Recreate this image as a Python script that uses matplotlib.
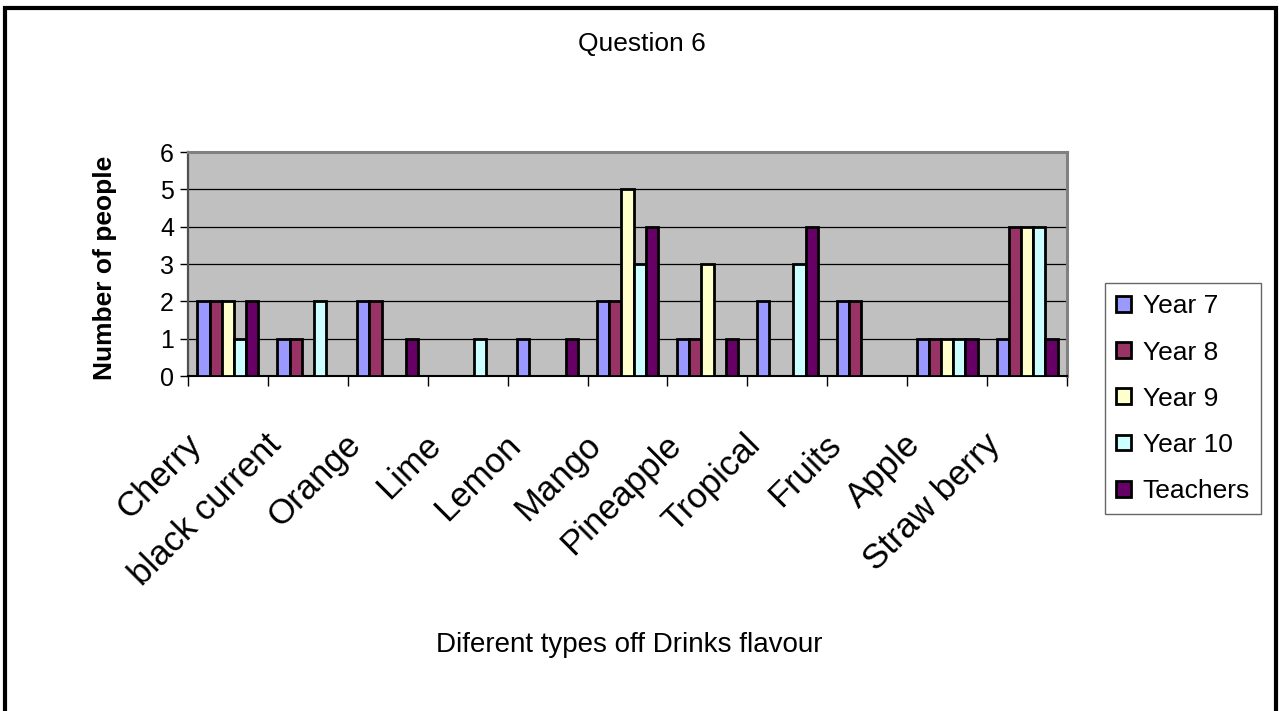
import numpy as np
import matplotlib
matplotlib.use("Agg")
import matplotlib.pyplot as plt
import matplotlib.transforms as mtransforms
from matplotlib.patches import Rectangle

plt.rcParams["font.family"] = ["Liberation Sans", "DejaVu Sans"]

# Survey data: favourite drink flavours by group
flavours = ["Cherry", "black current", "Orange", "Lime", "Lemon", "Mango",
            "Pineapple", "Tropical", "Fruits", "Apple", "Straw berry"]
year7 = [2, 1, 2, 0, 1, 2, 1, 2, 2, 1, 1]
year8 = [2, 1, 2, 0, 0, 2, 1, 0, 2, 1, 4]
year9 = [2, 0, 0, 0, 0, 5, 3, 0, 0, 1, 4]
year10 = [1, 2, 0, 1, 0, 3, 0, 3, 0, 1, 4]
teachers = [2, 0, 1, 0, 1, 4, 1, 4, 0, 1, 1]

series_names = ["Year 7", "Year 8", "Year 9", "Year 10", "Teachers"]
series_values = [year7, year8, year9, year10, teachers]
series_colors = ["#9999FF", "#993366", "#FFFFCC", "#CCFFFF", "#660066"]
y_ticks = [0, 1, 2, 3, 4, 5, 6]

W, H = 1279, 711
fig = plt.figure(figsize=(W / 100, H / 100), dpi=100)
fig.patch.set_facecolor("white")

# outer chart frame
fig.patches.append(Rectangle((5.5 / W, -0.02), (1275.5 - 5.5) / W, 1 - 7.5 / H + 0.02,
                             transform=fig.transFigure, fill=False,
                             edgecolor="black", linewidth=3.0, clip_on=False))

left, right, top, bottom = 188 / W, 1067 / W, 152 / H, 376 / H
ax = fig.add_axes([left, 1 - bottom, right - left, bottom - top])
ax.set_facecolor("#C0C0C0")

n = len(series_names)
bw = 0.1525
x = np.arange(len(flavours))
handles = []
for j, (name, vals, col) in enumerate(zip(series_names, series_values, series_colors)):
    vals = np.asarray(vals, dtype=float)
    pos = x + (j - (n - 1) / 2) * bw
    keep = vals > 0
    ax.bar(pos[keep], vals[keep], width=bw, color=col, edgecolor="black",
           linewidth=2.0, zorder=3)
    handles.append(Rectangle((0, 0), 1, 1, facecolor=col, edgecolor="black",
                             linewidth=2.0))

ax.set_xlim(-0.5, len(flavours) - 0.5)
ax.set_ylim(0, 6)
ax.set_yticks(y_ticks)
ax.set_yticklabels([str(v) for v in y_ticks], fontsize=18)
for v in y_ticks[1:-1]:
    ax.axhline(v, color="black", linewidth=0.9, zorder=1)

ax.tick_params(axis="y", direction="out", length=6, width=1, color="black", pad=4)
ax.set_xticks(np.arange(len(flavours) + 1) - 0.5)
ax.set_xticklabels([])
ax.tick_params(axis="x", direction="out", length=7.5, width=1, color="black")

for s in ["top", "right"]:
    ax.spines[s].set_color("#808080")
    ax.spines[s].set_linewidth(2.2)
ax.spines["left"].set_color("#505050")
ax.spines["left"].set_linewidth(1.6)
ax.spines["bottom"].set_color("black")
ax.spines["bottom"].set_linewidth(1.5)

# rotated category labels
offset = mtransforms.ScaledTranslation(-20 / 100, -52 / 100, fig.dpi_scale_trans)
trans = ax.get_xaxis_transform() + offset
for i, lab in enumerate(flavours):
    ax.text(i, 0, lab, rotation=45, ha="right", va="top", fontsize=25,
            transform=trans, rotation_mode="default")

fig.text(642 / W, 1 - 44 / H, "Question 6", ha="center", va="center", fontsize=19)
fig.text(629 / W, 1 - 645 / H, "Diferent types off Drinks flavour", ha="center",
         va="center", fontsize=20)
fig.text(105 / W, 1 - 268 / H, "Number of people", ha="center", va="center",
         rotation=90, fontsize=19, fontweight="bold")

leg = fig.legend(handles, series_names, loc="upper left",
                 bbox_to_anchor=(1105 / W, 1 - 283 / H), borderaxespad=0,
                 fontsize=19, frameon=True, fancybox=False, handlelength=0.55,
                 handleheight=0.55, handletextpad=0.45, borderpad=0.43,
                 labelspacing=0.84)
leg.get_frame().set_edgecolor("#404040")
leg.get_frame().set_linewidth(1.0)

fig.savefig("out.png", dpi=100)
